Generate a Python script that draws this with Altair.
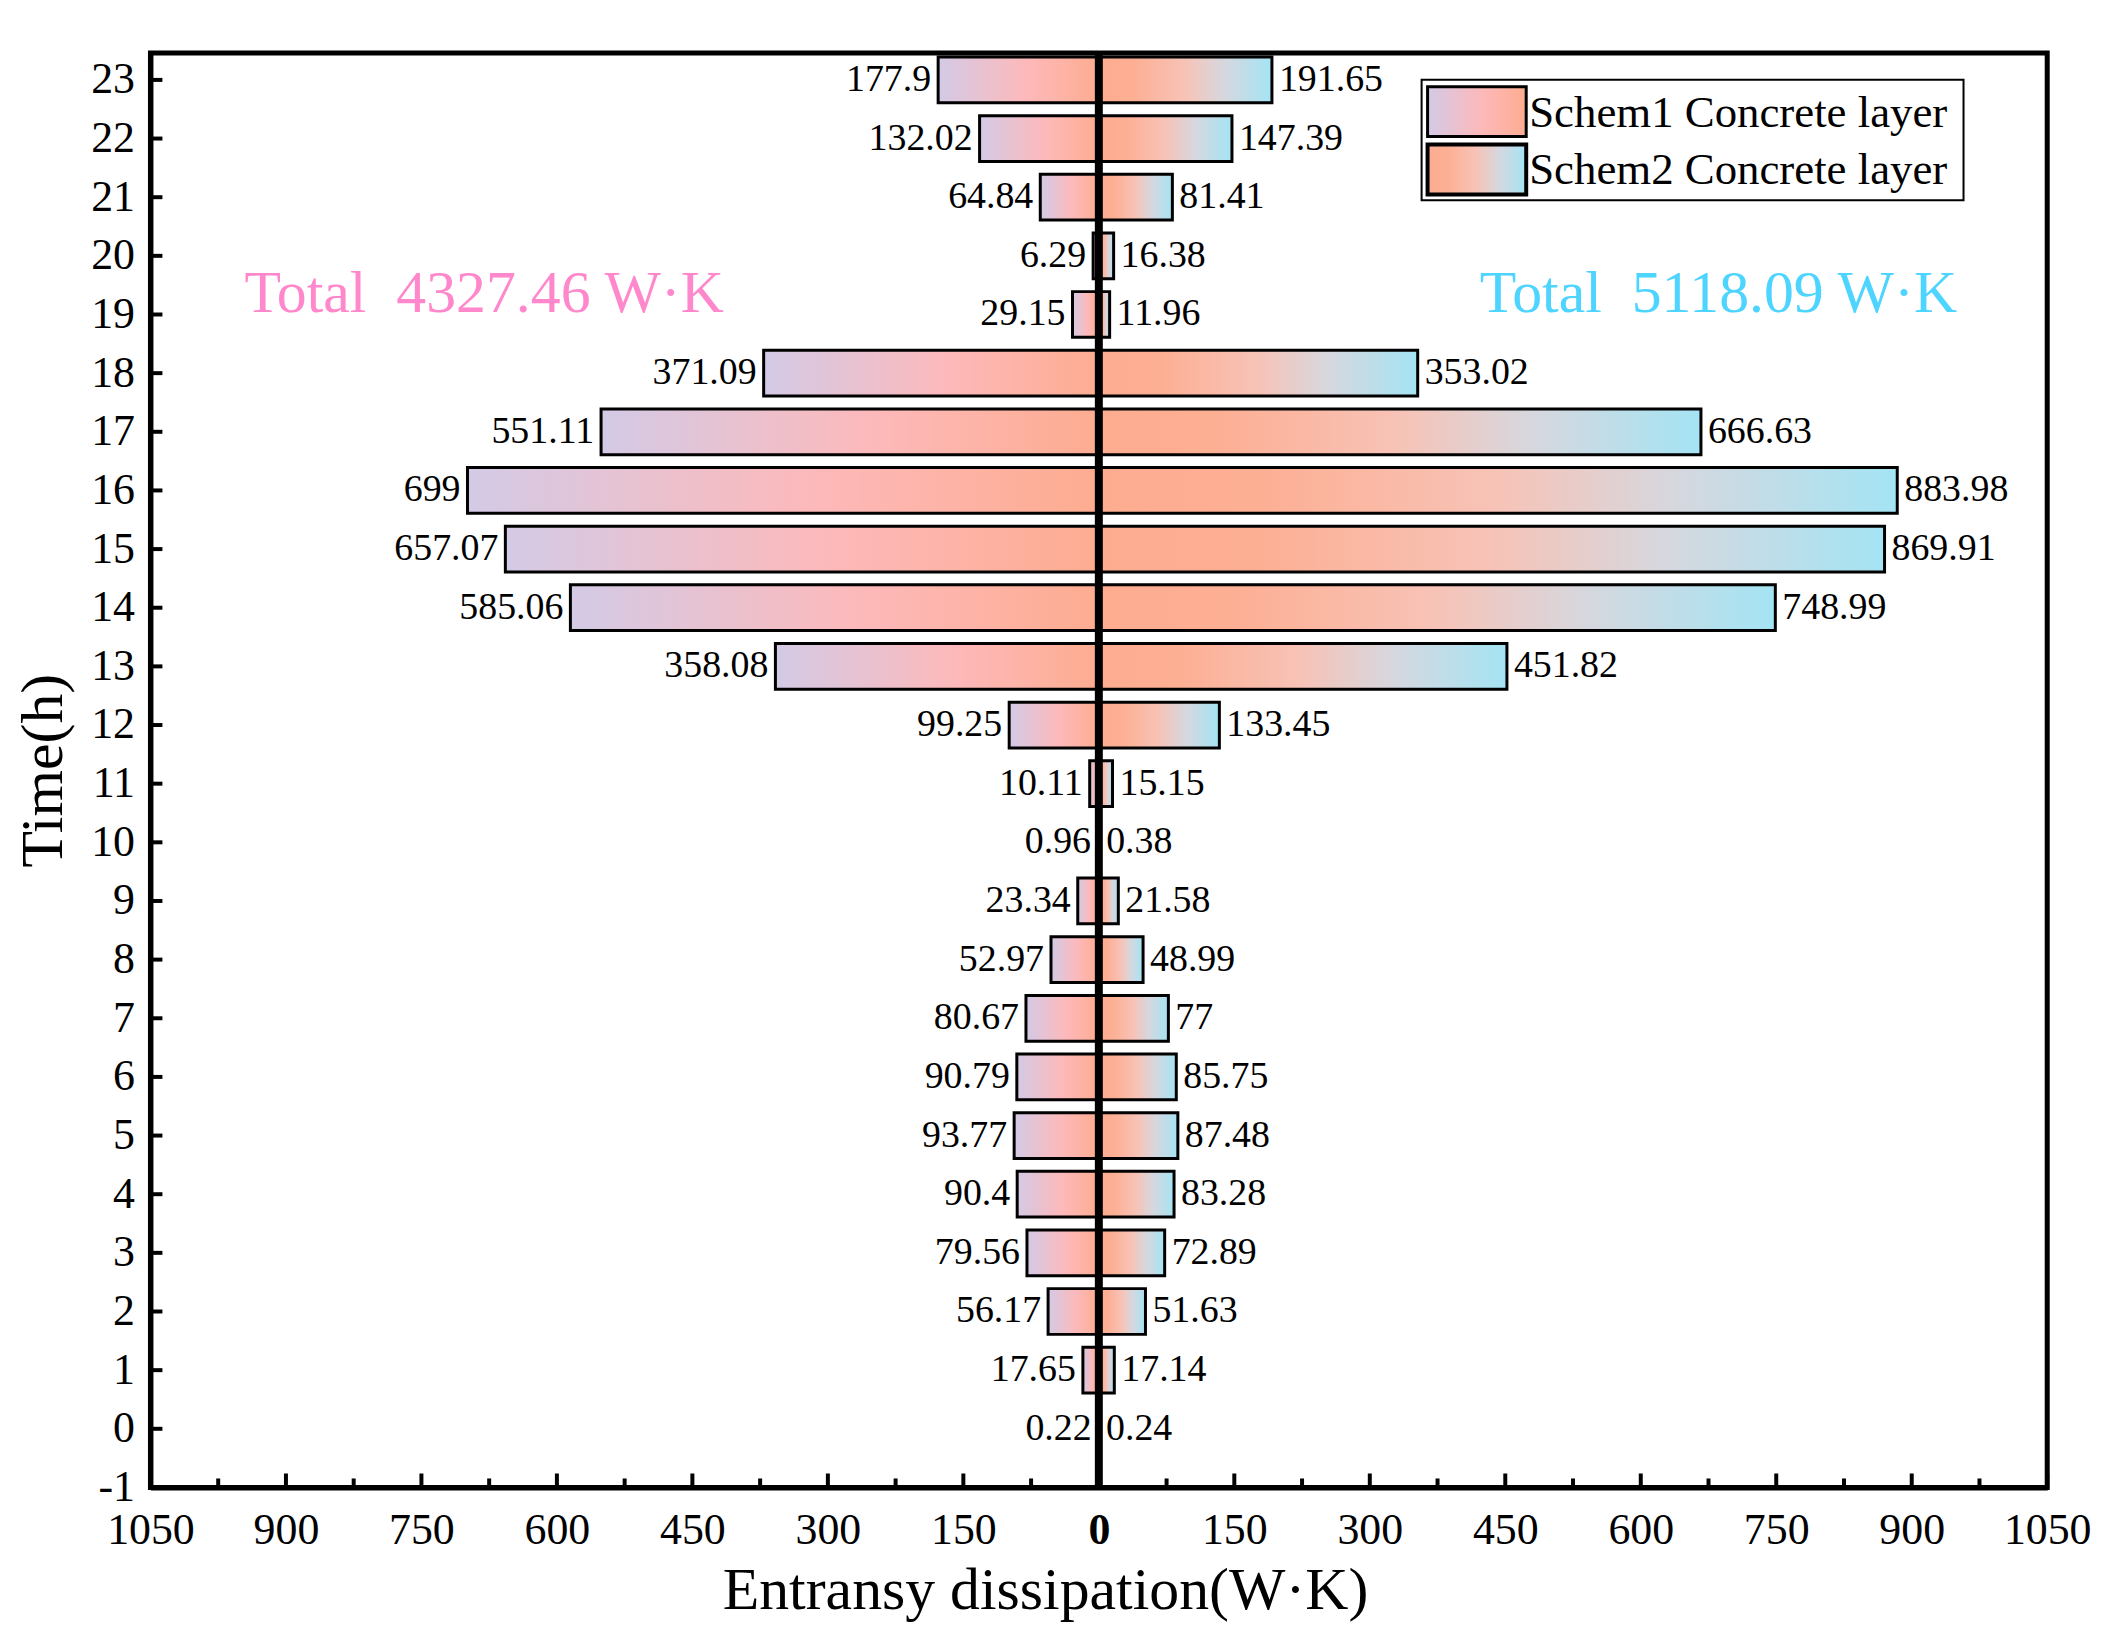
import pandas as pd
import altair as alt

FONT = "Liberation Serif"
W, H = 1904, 1440

# data
HOURS = [23, 22, 21, 20, 19, 18, 17, 16, 15, 14, 13, 12,
         11, 10, 9, 8, 7, 6, 5, 4, 3, 2, 1, 0]
SCHEM1 = [177.9, 132.02, 64.84, 6.29, 29.15, 371.09, 551.11, 699, 657.07, 585.06, 358.08, 99.25,
          10.11, 0.96, 23.34, 52.97, 80.67, 90.79, 93.77, 90.4, 79.56, 56.17, 17.65, 0.22]
SCHEM2 = [191.65, 147.39, 81.41, 16.38, 11.96, 353.02, 666.63, 883.98, 869.91, 748.99, 451.82, 133.45,
          15.15, 0.38, 21.58, 48.99, 77, 85.75, 87.48, 83.28, 72.89, 51.63, 17.14, 0.24]
SERIES = ["Schem1 Concrete layer", "Schem2 Concrete layer"]
NBSP = "\u00a0"
TOTALS = [f"Total{NBSP}{NBSP}4327.46 W\u00b7K", f"Total{NBSP}{NBSP}5118.09 W\u00b7K"]

X_TICKS = list(range(-1050, 1051, 150))
X_MINOR = list(range(-975, 1051, 150))
Y_TICKS = list(range(-1, 24))

df = pd.DataFrame({"hour": HOURS, "s1": SCHEM1, "s2": SCHEM2})
df["neg1"] = -df["s1"]
df["lab1"] = df["s1"].map(lambda v: f"{v:g}")
df["lab2"] = df["s2"].map(lambda v: f"{v:g}")
df["zero"] = 0.0

# gradients run along each bar (outer end -> centre and centre -> outer end)
grad_left = alt.LinearGradient(
    gradient="linear", x1=0, x2=1, y1=0, y2=0,
    stops=[alt.GradientStop(offset=0, color="#D3CAE6"),
           alt.GradientStop(offset=0.55, color="#FDB9BA"),
           alt.GradientStop(offset=1, color="#FDAC90")])
grad_right = alt.LinearGradient(
    gradient="linear", x1=0, x2=1, y1=0, y2=0,
    stops=[alt.GradientStop(offset=0, color="#FDAC90"),
           alt.GradientStop(offset=0.2, color="#FDAF94"),
           alt.GradientStop(offset=0.5, color="#F7C3B7"),
           alt.GradientStop(offset=0.72, color="#D6D7DE"),
           alt.GradientStop(offset=1, color="#A4E4F4")])

xs = alt.Scale(domain=[-1050, 1050], nice=False, zero=False)
ys = alt.Scale(domain=[-1, 23.46], nice=False, zero=False)

x_axis = alt.Axis(values=X_TICKS, labelExpr="abs(datum.value)", tickSize=0,
                  labelFlush=False, labelOverlap=False, labelPadding=21,
                  labelFontWeight={"expr": "datum.value == 0 ? 'bold' : 'normal'"},
                  title="Entransy dissipation(W\u00b7K)", titlePadding=10,
                  titleX=898, titleAlign="center", grid=False)
y_axis = alt.Axis(values=Y_TICKS, labelExpr="toString(datum.value)", tickSize=0,
                  labelFlush=False, labelOverlap=False,
                  labelPadding=16, title="Time(h)", titlePadding=16, grid=False)

base = alt.Chart(df).transform_calculate(
    lo="datum.hour - 0.39", hi="datum.hour + 0.39"
)

bars1 = base.mark_bar(fill=grad_left, stroke="black", strokeWidth=3).encode(
    x=alt.X("neg1:Q", scale=xs, axis=x_axis),
    x2="zero:Q",
    y=alt.Y("lo:Q", scale=ys, axis=y_axis),
    y2="hi:Q",
)
bars2 = base.mark_bar(fill=grad_right, stroke="black", strokeWidth=3).encode(
    x="zero:Q", x2="s2:Q", y="lo:Q", y2="hi:Q",
)

text1 = base.mark_text(align="right", baseline="middle", dx=-7, font=FONT,
                       fontSize=38, color="black").encode(
    x="neg1:Q", y="hour:Q", text="lab1:N")
text2 = base.mark_text(align="left", baseline="middle", dx=7, font=FONT,
                       fontSize=38, color="black").encode(
    x="s2:Q", y="hour:Q", text="lab2:N")

centre = alt.Chart(pd.DataFrame({"x": [0]})).mark_rule(
    color="black", strokeWidth=8).encode(
    x="x:Q", y=alt.value(0), y2=alt.value(H))

# inward ticks
xmaj = alt.Chart(pd.DataFrame({"v": X_TICKS})).mark_rule(
    color="black", strokeWidth=4).encode(
    x="v:Q", y=alt.value(H - 14), y2=alt.value(H))
xmin = alt.Chart(pd.DataFrame({"v": X_MINOR})).mark_rule(
    color="black", strokeWidth=4).encode(
    x="v:Q", y=alt.value(H - 9), y2=alt.value(H))
ytk = alt.Chart(pd.DataFrame({"v": Y_TICKS})).mark_rule(
    color="black", strokeWidth=4).encode(
    y="v:Q", x=alt.value(0), x2=alt.value(12))

one = pd.DataFrame({"k": [0]})
total_l = alt.Chart(one).mark_text(font=FONT, fontSize=60, color="#FF88CC",
                                   align="center", baseline="middle").encode(
    x=alt.value(335), y=alt.value(242), text=alt.value(TOTALS[0]))
total_r = alt.Chart(one).mark_text(font=FONT, fontSize=60, color="#4DD4FF",
                                   align="center", baseline="middle").encode(
    x=alt.value(1574), y=alt.value(242), text=alt.value(TOTALS[1]))

# hand-made legend with gradient swatches
leg_box = alt.Chart(one).mark_rect(fill="white", stroke="black", strokeWidth=2).encode(
    x=alt.value(1276), x2=alt.value(1820), y=alt.value(27), y2=alt.value(148))
sw1 = alt.Chart(one).mark_rect(fill=grad_left, stroke="black", strokeWidth=3).encode(
    x=alt.value(1282), x2=alt.value(1381), y=alt.value(34), y2=alt.value(84))
sw2 = alt.Chart(one).mark_rect(fill=grad_right, stroke="black", strokeWidth=4).encode(
    x=alt.value(1282), x2=alt.value(1381), y=alt.value(92), y2=alt.value(142))
lt1 = alt.Chart(one).mark_text(font=FONT, fontSize=45, align="left", baseline="middle",
                               color="black").encode(
    x=alt.value(1384), y=alt.value(60), text=alt.value(SERIES[0]))
lt2 = alt.Chart(one).mark_text(font=FONT, fontSize=45, align="left", baseline="middle",
                               color="black").encode(
    x=alt.value(1384), y=alt.value(118), text=alt.value(SERIES[1]))

chart = alt.layer(
    bars1, bars2, centre, text1, text2, xmaj, xmin, ytk,
    total_l, total_r, leg_box, sw1, sw2, lt1, lt2,
).properties(
    width=W, height=H,
    autosize=alt.AutoSizeParams(type="none"),
    padding={"left": 143, "top": 42, "right": 55, "bottom": 139},
    background="white",
).configure_view(
    stroke="black", strokeWidth=5,
).configure_axis(
    domainColor="black", domainWidth=5,
    labelFont=FONT, labelFontSize=44, labelColor="black",
    titleFont=FONT, titleFontSize=60, titleColor="black", titleFontWeight="normal",
)

chart.save("out.html", embed_options={"renderer": "svg", "actions": False})
